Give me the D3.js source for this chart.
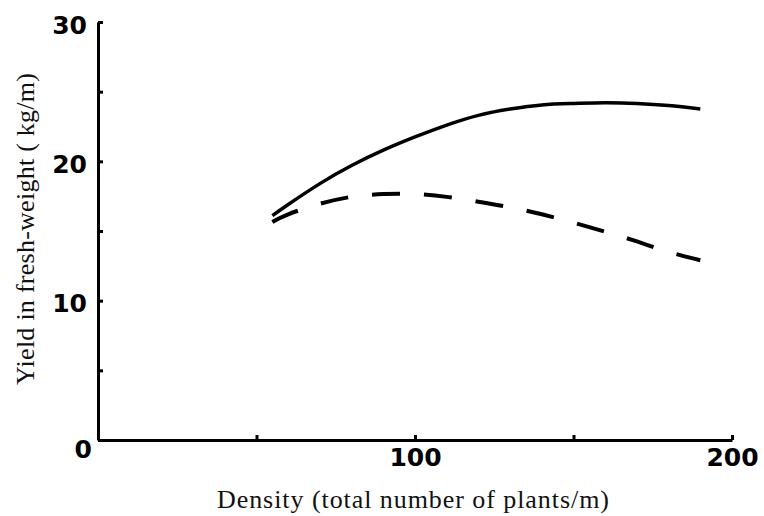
<!DOCTYPE html>
<html>
<head>
<meta charset="utf-8">
<script src="https://cdn.jsdelivr.net/npm/d3@7"></script>
<style>
  body { margin: 0; background: #fff; }
  .axis .domain, .axis .tick line { stroke: #000; stroke-width: 3; }
  .axis text { font-family: "DejaVu Sans", sans-serif; font-weight: bold; font-size: 25px; fill: #000; }
  .title { font-family: "Liberation Serif", "Times New Roman", serif; font-size: 26px; fill: #111; }
</style>
</head>
<body>
<div id="chart"></div>
<script>
// density (plants/m) and yield (kg/m)
const density = [55, 60, 70, 80, 90, 100, 110, 120, 130, 140, 150, 160, 170, 180, 190];
const yieldSolid = [16.1, 16.9, 18.4, 19.7, 20.8, 21.75, 22.6, 23.3, 23.75, 24.05, 24.15, 24.2, 24.15, 24.0, 23.75];
const yieldDashed = [15.65, 16.2, 16.95, 17.45, 17.65, 17.65, 17.45, 17.1, 16.7, 16.2, 15.6, 14.95, 14.25, 13.5, 12.9];

const xTicks = [0, 50, 100, 150, 200];
const xTickLabels = ["", "", "100", "", "200"];
const yTicks = [0, 5, 10, 15, 20, 25, 30];
const yTickLabels = ["0", "", "10", "", "20", "", "30"];

const xTitle = "Density (total number of plants/m)";
const yTitle = "Yield in fresh-weight ( kg/m)";

const chart = {};
chart.width = 764;
chart.height = 516;
chart.margin = { top: 22, right: 32, bottom: 76, left: 98 };

chart.draw = function (el) {
  const { top, right, bottom, left } = chart.margin;
  const width = chart.width, height = chart.height;

  const svg = d3.select(el)
    .append("svg")
    .attr("width", width)
    .attr("height", height);

  const x = d3.scaleLinear()
    .domain([0, 200])
    .range([left, width - right]);

  const y = d3.scaleLinear()
    .domain([0, 30])
    .range([height - bottom, top]);

  // x axis, ticks pointing up
  const xAxis = d3.axisBottom(x)
    .tickValues(xTicks)
    .tickSizeInner(-5)
    .tickSizeOuter(0)
    .tickPadding(8)
    .tickFormat((d, i) => xTickLabels[i]);

  svg.append("g")
    .attr("class", "x axis")
    .attr("transform", `translate(0,${y(0)})`)
    .call(xAxis)
    .call(g => g.selectAll("text").attr("text-anchor", "middle"));

  // y axis, ticks pointing right
  const yAxis = d3.axisLeft(y)
    .tickValues(yTicks)
    .tickSizeInner(-5)
    .tickSizeOuter(0)
    .tickPadding(11)
    .tickFormat((d, i) => yTickLabels[i]);

  svg.append("g")
    .attr("class", "y axis")
    .attr("transform", `translate(${x(0)},0)`)
    .call(yAxis)
    .call(g => g.selectAll("text").attr("dy", "0.45em"))
    .call(g => g.selectAll(".tick").filter(d => d === 0).select("text")
      .attr("x", -6).attr("dy", "0.7em"));

  const line = d3.line()
    .x(d => x(d[0]))
    .y(d => y(d[1]))
    .curve(d3.curveNatural);

  svg.append("path")
    .datum(density.map((d, i) => [d, yieldSolid[i]]))
    .attr("fill", "none")
    .attr("stroke", "#000")
    .attr("stroke-width", 3.5)
    .attr("d", line);

  svg.append("path")
    .datum(density.map((d, i) => [d, yieldDashed[i]]))
    .attr("fill", "none")
    .attr("stroke", "#000")
    .attr("stroke-width", 4)
    .attr("stroke-dasharray", "28,24")
    .attr("d", line);

  // axis titles
  svg.append("text")
    .attr("class", "title")
    .attr("x", 413)
    .attr("y", 508)
    .attr("text-anchor", "middle")
    .attr("textLength", 392)
    .attr("lengthAdjust", "spacing")
    .text(xTitle);

  svg.append("text")
    .attr("class", "title")
    .attr("transform", "translate(34,229) rotate(-90)")
    .attr("text-anchor", "middle")
    .attr("textLength", 312)
    .attr("lengthAdjust", "spacing")
    .text(yTitle);
};

chart.draw(document.getElementById("chart"));
</script>
</body>
</html>
